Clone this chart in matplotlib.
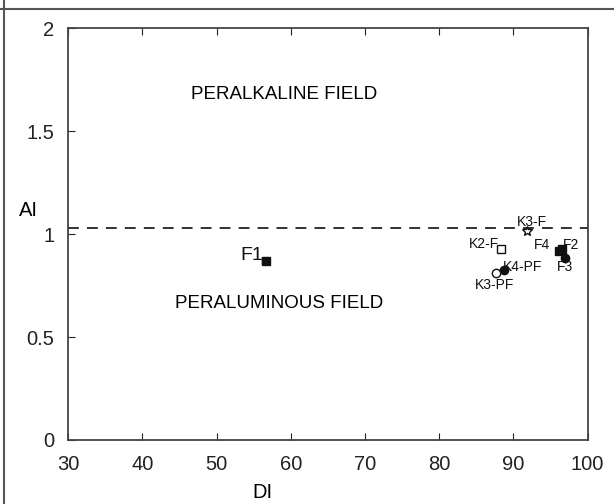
import matplotlib
matplotlib.use("Agg")
import matplotlib.pyplot as plt
from matplotlib.lines import Line2D

plt.rcParams['font.family'] = ['Liberation Sans', 'DejaVu Sans']

# sample points (DI, AI)
names = ['F1', 'K3-F', 'K2-F', 'F4', 'F2', 'F3', 'K4-PF', 'K3-PF']
di = [56.6, 91.8, 88.3, 96.2, 96.5, 96.9, 88.8, 87.7]
ai = [0.87, 1.015, 0.93, 0.92, 0.93, 0.885, 0.825, 0.81]
markers = ['s', '*', 's', 's', 's', 'o', 'o', 'o']
filled = [True, False, False, True, True, True, True, False]
label_dx = [-1.8, 0.65, -2.2, -2.3, 1.3, 0.1, 2.4, -0.2]
label_dy = [0.024, 0.043, 0.02, 0.027, 0.017, -0.045, 0.015, -0.058]

x_ticks = [30, 40, 50, 60, 70, 80, 90, 100]
y_ticks = [0, 0.5, 1, 1.5, 2]
y_tick_labels = ['0', '0.5', '1', '1.5', '2']
boundary = 1.03

fig = plt.figure(figsize=(6.14, 5.04), dpi=100)
ax = fig.add_axes([0.111, 0.127, 0.846, 0.817])

ax.axhline(boundary, color='#222222', lw=1.3, ls=(0, (6, 4.5)))

for n, x, y, m, f, dx, dy in zip(names, di, ai, markers, filled, label_dx, label_dy):
    fc = '#111111' if f else 'white'
    size = 7 if m == '*' else 6
    ax.plot(x, y, marker=m, ms=size, mfc=fc, mec='#111111', mew=1, ls='none')
    fs = 14 if n == 'F1' else 10
    ax.text(x + dx, y + dy, n, fontsize=fs, ha='center', va='center', color='#111111')
# F1 plots as a tall dark blob
ax.plot([di[0], di[0]], [ai[0] - 0.02, ai[0] + 0.02], color='#111111', lw=6,
        solid_capstyle='butt')

ax.text(59.1, 1.68, 'PERALKALINE FIELD', fontsize=13.5, ha='center', va='center')
ax.text(58.4, 0.665, 'PERALUMINOUS FIELD', fontsize=13.5, ha='center', va='center')

ax.set_xlim(30, 100)
ax.set_ylim(0, 2)
ax.set_xticks(x_ticks)
ax.set_yticks(y_ticks)
ax.set_yticklabels(y_tick_labels)
ax.tick_params(direction='in', top=True, right=False, length=5, labelsize=14.5, colors='#222222')
ax.tick_params(axis='x', pad=11)
ax.tick_params(axis='y', pad=10)
for s in ax.spines.values():
    s.set_color('#444444')
    s.set_linewidth(1.3)

fig.text(262 / 614, 0.003, 'DI', fontsize=14.5, ha='center', va='bottom')
fig.text(0.046, 0.583, 'AI', fontsize=14.5, ha='center', va='center')

# frame lines of the original figure panel
fig.add_artist(Line2D([0.006, 0.006], [0, 1], color='#555555', lw=1.5))
fig.add_artist(Line2D([0, 1], [0.982, 0.982], color='#555555', lw=1.5))

fig.savefig('out.png', dpi=100)
